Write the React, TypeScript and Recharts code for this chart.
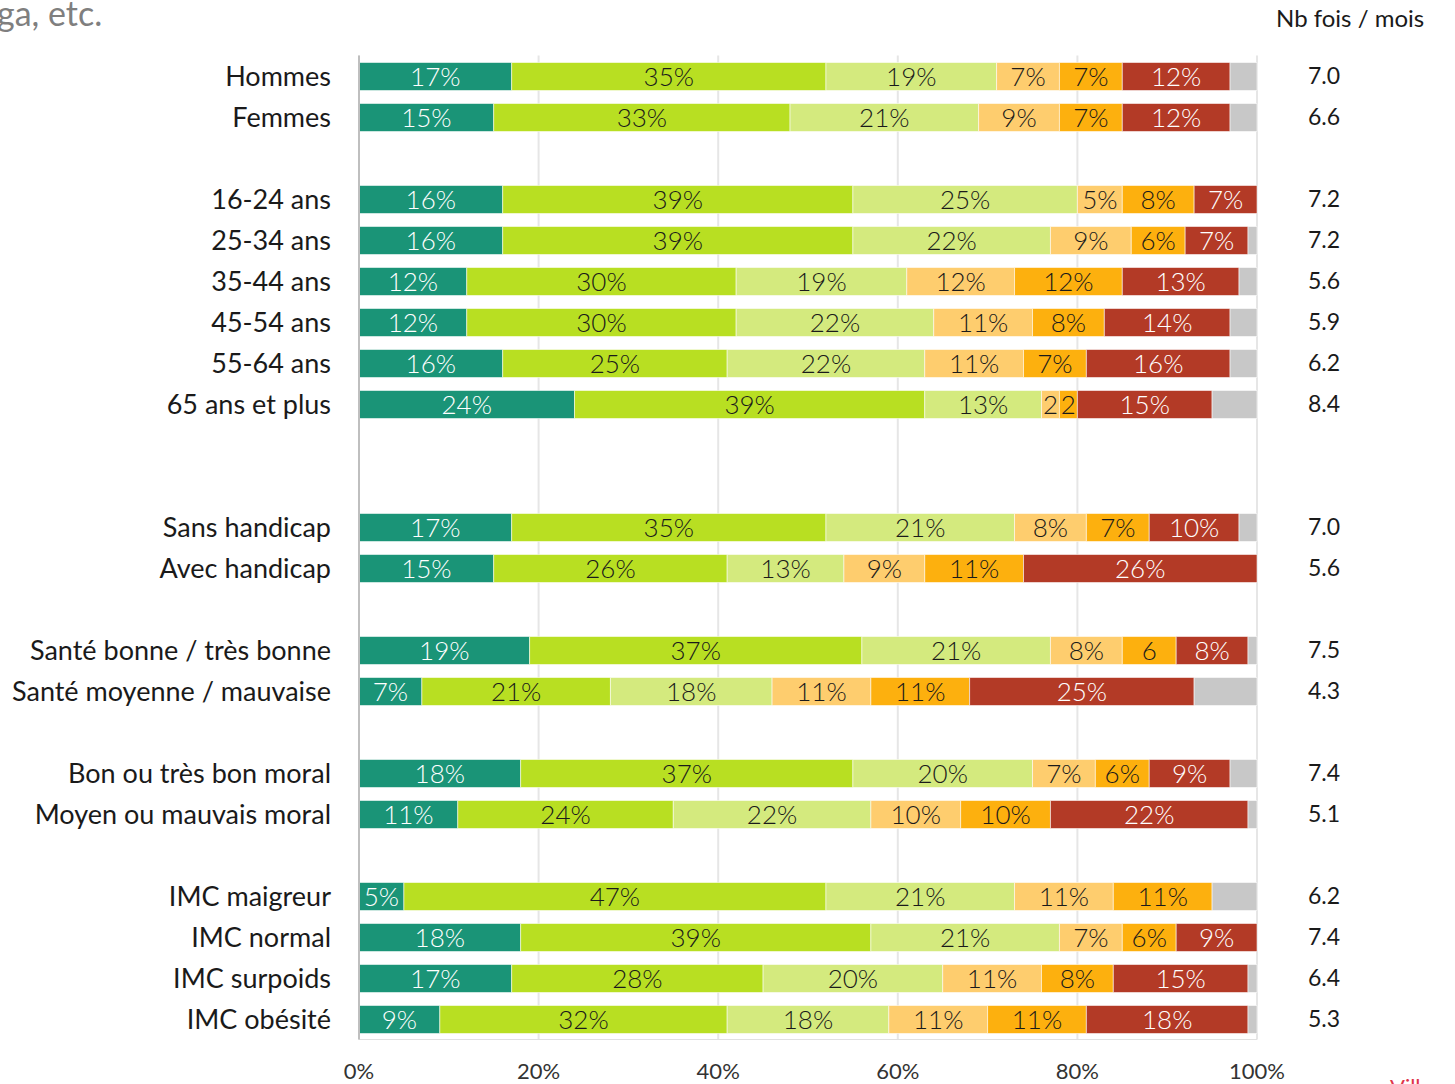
import { BarChart, Bar, XAxis, YAxis, CartesianGrid, LabelList } from 'recharts'

const CATEGORIES = [
  'Hommes', 'Femmes', '',
  '16-24 ans', '25-34 ans', '35-44 ans', '45-54 ans', '55-64 ans', '65 ans et  plus', '', '',
  'Sans handicap', 'Avec handicap', '',
  'Santé bonne / très bonne', 'Santé moyenne / mauvaise', '',
  'Bon ou très bon moral', 'Moyen ou mauvais moral', '',
  'IMC maigreur', 'IMC normal', 'IMC surpoids', 'IMC obésité',
]

// share of respondents per frequency band (%), null = spacer row
const S1 = [17, 15, null, 16, 16, 12, 12, 16, 24, null, null, 17, 15, null, 19, 7, null, 18, 11, null, 5, 18, 17, 9]
const S2 = [35, 33, null, 39, 39, 30, 30, 25, 39, null, null, 35, 26, null, 37, 21, null, 37, 24, null, 47, 39, 28, 32]
const S3 = [19, 21, null, 25, 22, 19, 22, 22, 13, null, null, 21, 13, null, 21, 18, null, 20, 22, null, 21, 21, 20, 18]
const S4 = [7, 9, null, 5, 9, 12, 11, 11, 2, null, null, 8, 9, null, 8, 11, null, 7, 10, null, 11, 7, 11, 11]
const S5 = [7, 7, null, 8, 6, 12, 8, 7, 2, null, null, 7, 11, null, 6, 11, null, 6, 10, null, 11, 6, 8, 11]
const S6 = [12, 12, null, 7, 7, 13, 14, 16, 15, null, null, 10, 26, null, 8, 25, null, 9, 22, null, 0, 9, 15, 18]

// Nb fois / mois
const NB = ['7.0', '6.6', '', '7.2', '7.2', '5.6', '5.9', '6.2', '8.4', '', '', '7.0', '5.6', '', '7.5', '4.3', '', '7.4', '5.1', '', '6.2', '7.4', '6.4', '5.3']

// labels Excel shortened because they did not fit (row index - series)
const SHORT_LABELS: Record<string, string> = { '8-s4': '2', '8-s5': '2', '14-s5': '6' }

const X_TICKS = [0, 20, 40, 60, 80, 100]

const SERIES = [
  { key: 's1', values: S1, color: '#1a9477', text: '#ffffff' },
  { key: 's2', values: S2, color: '#b8df22', text: '#1a1a1a' },
  { key: 's3', values: S3, color: '#d4ea7e', text: '#1a1a1a' },
  { key: 's4', values: S4, color: '#fecd6e', text: '#1a1a1a' },
  { key: 's5', values: S5, color: '#fdb00e', text: '#1a1a1a' },
  { key: 's6', values: S6, color: '#b33a26', text: '#ffffff' },
]

const data = CATEGORIES.map((name, i) => {
  const row: Record<string, unknown> = { name, nb: NB[i] }
  let sum = 0
  SERIES.forEach((s) => {
    const v = s.values[i]
    row[s.key] = v
    row[s.key + 'Label'] = v ? SHORT_LABELS[`${i}-${s.key}`] ?? `${v}%` : ''
    sum += v ?? 0
  })
  row.rest = S1[i] === null ? null : 100 - sum
  return row
})

const FONT = 'Lato, "Open Sans", sans-serif'

export default function App() {
  return (
    <div style={{ position: 'absolute', left: 0, top: 0, width: 1455, height: 1084, background: '#fff', fontFamily: FONT, overflow: 'hidden' }}>
      <div style={{ position: 'absolute', left: -3, top: -8, fontSize: 34, color: '#7f7f7f' }}>ga, etc.</div>
      <div style={{ position: 'absolute', left: 1276, top: 3, fontSize: 24, color: '#1a1a1a' }}>Nb fois / mois</div>
      <div style={{ position: 'absolute', left: 1390, top: 1073, fontSize: 22, color: '#e0354b' }}>Ville de</div>
      <BarChart
        width={1455}
        height={1084}
        data={data}
        layout="vertical"
        barSize={28}
        margin={{ top: 55.5, right: 0, left: 0, bottom: 0 }}
      >
        <CartesianGrid horizontal={false} stroke="#e6e6e6" strokeWidth={2} />
        <XAxis
          type="number"
          domain={[0, 100]}
          ticks={X_TICKS}
          tickFormatter={(v: number) => `${v}%`}
          axisLine={{ stroke: '#e0e0e0' }}
          tickLine={false}
          height={44.5}
          tickMargin={18}
          tick={{ fontSize: 22, fill: '#333', fontFamily: FONT }}
        />
        <YAxis
          yAxisId="left"
          type="category"
          dataKey="name"
          width={359}
          axisLine={{ stroke: '#bfbfbf', strokeWidth: 2 }}
          tickLine={false}
          tickMargin={22}
          interval={0}
          tick={{ fontSize: 27, fill: '#1a1a1a', fontFamily: FONT }}
        />
        <YAxis
          yAxisId="right"
          orientation="right"
          type="category"
          dataKey="nb"
          width={198}
          axisLine={false}
          tickLine={false}
          tickMargin={45}
          interval={0}
          tick={{ fontSize: 23, fill: '#1a1a1a', fontFamily: FONT, textAnchor: 'start' }}
        />
        {SERIES.map((s) => (
          <Bar
            key={s.key}
            yAxisId="left"
            dataKey={s.key}
            stackId="a"
            fill={s.color}
            stroke="rgba(255,255,255,0.55)"
            strokeWidth={1}
            isAnimationActive={false}
          >
            <LabelList
              dataKey={s.key + 'Label'}
              position="center"
              fill={s.text}
              fontSize={26}
              fontWeight={300}
              fontFamily={FONT}
            />
          </Bar>
        ))}
        <Bar
          yAxisId="left"
          dataKey="rest"
          stackId="a"
          fill="#c8c8c8"
          stroke="rgba(255,255,255,0.55)"
          strokeWidth={1}
          isAnimationActive={false}
        />
      </BarChart>
    </div>
  )
}
